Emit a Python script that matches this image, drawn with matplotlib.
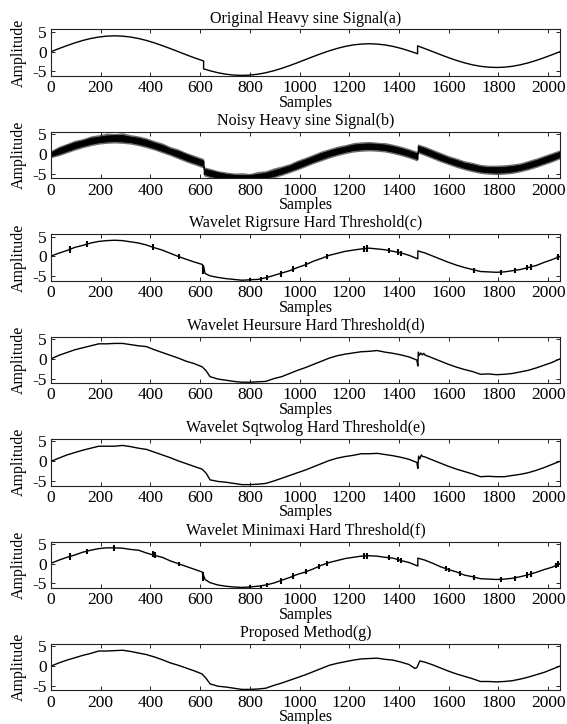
import numpy as np
import matplotlib
matplotlib.use("Agg")
import matplotlib.pyplot as plt

plt.rcParams['font.family'] = ['Liberation Serif', 'DejaVu Serif']
plt.rcParams['axes.unicode_minus'] = False

# sample grid (every 32 samples)
grid = np.arange(0, 2049, 32)

titles = ["Original Heavy sine Signal(a)", "Noisy Heavy sine Signal(b)",
          "Wavelet Rigrsure Hard Threshold(c)", "Wavelet Heursure Hard Threshold(d)",
          "Wavelet Sqtwolog Hard Threshold(e)", "Wavelet Minimaxi Hard Threshold(f)",
          "Proposed Method(g)"]
xticks = [0, 200, 400, 600, 800, 1000, 1200, 1400, 1600, 1800, 2000]
yticks = [-5, 0, 5]

# (a) original
orig_y = [0, 0.78, 1.53, 2.22, 2.83, 3.33, 3.70, 3.92, 4.00, 3.92, 3.70, 3.33, 2.83, 2.22, 1.53, 0.78, 0.00, -0.78, -1.53, -2.22,
          -4.83, -5.33, -5.70, -5.92, -6.00, -5.92, -5.70, -5.33, -4.83, -4.22, -3.53, -2.78, -2.00, -1.22, -0.47, 0.22, 0.83,
          1.33, 1.70, 1.92, 2.00, 1.92, 1.70, 1.33, 0.83, 0.22, -0.47,
          0.78, 0.00, -0.78, -1.53, -2.22, -2.83, -3.33, -3.70, -3.92, -4.00, -3.92, -3.70, -3.33, -2.83, -2.22, -1.53, -0.78, 0.00]
orig_ex_x = [614, 614, 1475, 1475]
orig_ex_y = [-2.35, -4.35, -0.53, 1.47]

# (b) noisy: outer envelope of the noise band
noisy_hi = [0.9, 2.0, 2.7, 3.5, 3.9, 4.6, 4.9, 5.3, 5.2, 5.4, 4.9, 4.6, 4.1, 3.4, 2.8, 1.9, 1.3, 0.4, -0.3, -1.0,
            -3.6, -4.2, -4.5, -4.8, -4.7, -4.9, -4.4, -4.2, -3.5, -3.0, -2.4, -1.5, -0.8, 0.0, 0.8, 1.4, 2.0,
            2.4, 2.9, 3.1, 3.2, 3.0, 2.9, 2.5, 2.0, 1.4, 0.7,
            2.0, 1.2, 0.4, -0.4, -1.0, -1.7, -2.1, -2.6, -2.8, -2.8, -2.7, -2.5, -2.2, -1.6, -1.0, -0.3, 0.4, 1.1]
noisy_lo = [-0.9, -0.4, 0.3, 1.0, 1.6, 2.1, 2.5, 2.7, 2.8, 2.7, 2.5, 2.1, 1.6, 1.0, 0.3, -0.4, -1.2, -2.0, -2.7, -3.4,
            -6.0, -6.5, -6.9, -7.1, -7.2, -7.1, -6.9, -6.5, -6.0, -5.4, -4.7, -4.0, -3.2, -2.4, -1.7, -1.0, -0.4,
            0.1, 0.5, 0.7, 0.8, 0.7, 0.5, 0.1, -0.4, -1.0, -1.7,
            -0.4, -1.2, -2.0, -2.7, -3.4, -4.0, -4.5, -4.9, -5.1, -5.2, -5.1, -4.9, -4.5, -4.0, -3.4, -2.7, -2.0, -1.2]
noisy_ex_x = [614, 614, 1475, 1475]
noisy_ex_hi = [-1.2, -3.2, 0.6, 2.6]
noisy_ex_lo = [-3.5, -5.5, -1.7, 0.3]
# dense core of the noise band
core_hi = [0.5, 1.5, 2.3, 3.0, 3.5, 4.1, 4.4, 4.7, 4.8, 4.8, 4.4, 4.1, 3.6, 2.9, 2.3, 1.4, 0.8, 0.0, -0.8, -1.5,
           -4.1, -4.6, -5.0, -5.2, -5.3, -5.3, -5.0, -4.7, -4.1, -3.5, -2.9, -2.0, -1.3, -0.5, 0.3, 0.9, 1.5,
           1.9, 2.4, 2.6, 2.7, 2.6, 2.4, 2.0, 1.5, 0.9, 0.2,
           1.5, 0.7, -0.1, -0.9, -1.5, -2.2, -2.6, -3.1, -3.3, -3.3, -3.2, -3.0, -2.7, -2.1, -1.5, -0.8, -0.1, 0.6]
core_lo = [-0.5, 0.1, 0.8, 1.5, 2.1, 2.6, 3.0, 3.2, 3.3, 3.2, 3.0, 2.6, 2.1, 1.5, 0.8, 0.1, -0.7, -1.5, -2.2, -2.9,
           -5.5, -6.0, -6.4, -6.6, -6.7, -6.6, -6.4, -6.0, -5.5, -4.9, -4.2, -3.5, -2.7, -1.9, -1.2, -0.5, 0.1,
           0.6, 1.0, 1.2, 1.3, 1.2, 1.0, 0.6, 0.1, -0.5, -1.2,
           0.1, -0.7, -1.5, -2.2, -2.9, -3.5, -4.0, -4.4, -4.6, -4.7, -4.6, -4.4, -4.0, -3.5, -2.9, -2.2, -1.5, -0.7]
core_ex_hi = [-1.7, -3.7, 0.1, 2.1]
core_ex_lo = [-3.0, -5.0, -1.2, 0.8]

# (c) rigrsure
rig_y = [0.1, 0.85, 1.5, 2.3, 2.8, 3.4, 3.8, 4.0, 4.1, 4.0, 3.7, 3.4, 2.9, 2.2, 1.6, 0.8, 0.0, -0.7, -1.4, -2.0,
         -4.9, -5.3, -5.6, -5.8, -6.0, -5.9, -5.8, -5.4, -4.8, -4.2, -3.6, -2.8, -2.1, -1.2, -0.5, 0.3, 0.8,
         1.3, 1.6, 1.9, 2.1, 1.9, 1.7, 1.3, 0.9, 0.3, -0.5,
         0.9, 0.1, -0.7, -1.5, -2.2, -2.8, -3.3, -3.8, -3.9, -4.0, -3.9, -3.6, -3.3, -2.8, -2.3, -1.5, -0.8, 0.0]
rig_ex_x = [614, 620, 1476, 1476]
rig_ex_y = [-2.5, -4.3, -0.6, 1.4]
rig_sp_x = [75, 145, 410, 515, 612, 800, 845, 870, 925, 975, 1025, 1110, 1258, 1270, 1360, 1395, 1410,
            1700, 1810, 1865, 1915, 1930, 2040]
rig_sp_lo = [1.0, 2.4, 1.6, -0.6, -4.4, -6.1, -6.1, -5.9, -5.1, -3.9, -2.7, -0.6, 1.2, 1.2, 0.9, 0.4, 0.2,
             -4.1, -4.6, -4.3, -3.5, -3.3, -0.8]
rig_sp_hi = [2.6, 3.8, 3.1, 0.5, -2.2, -5.5, -5.3, -4.8, -3.6, -2.4, -1.3, 0.6, 2.7, 2.8, 2.2, 1.8, 1.5,
             -2.8, -3.3, -3.0, -2.1, -1.9, 0.6]

# (d) heursure
heur_y = [0.0, 0.9, 1.6, 2.3, 2.8, 3.3, 3.8, 3.8, 3.9, 3.9, 3.6, 3.3, 3.1, 2.3, 1.6, 0.9, 0.2, -0.6, -1.2, -2.0,
          -4.5, -5.1, -5.4, -5.7, -5.9, -5.9, -5.8, -5.7, -5.0, -4.5, -3.7, -2.9, -2.2, -1.4, -0.6, 0.2, 0.8,
          1.2, 1.5, 1.8, 1.9, 2.1, 1.7, 1.4, 1.0, 0.5, -0.3,
          1.0, 0.2, -0.6, -1.4, -2.1, -2.7, -3.2, -3.9, -3.8, -4.0, -3.9, -3.7, -3.3, -2.9, -2.3, -1.6, -0.9, 0.0]
heur_ex_x = [624, 1476, 1478, 1482, 1488, 1494, 1500]
heur_ex_y = [-3.0, -1.8, 1.7, 0.9, 1.5, 1.0, 1.4]

# (e) sqtwolog
sqt_y = [0.0, 0.8, 1.6, 2.2, 2.8, 3.3, 3.8, 3.8, 3.8, 4.0, 3.7, 3.3, 3.0, 2.3, 1.6, 0.9, 0.1, -0.6, -1.3, -2.0,
         -4.7, -5.1, -5.3, -5.6, -5.9, -5.9, -5.8, -5.6, -5.0, -4.3, -3.6, -2.9, -2.2, -1.4, -0.6, 0.2, 0.8,
         1.2, 1.5, 1.9, 1.9, 2.0, 1.7, 1.4, 1.0, 0.5, -0.3,
         1.1, 0.3, -0.5, -1.3, -2.0, -2.6, -3.2, -3.9, -3.8, -3.9, -3.9, -3.6, -3.3, -2.9, -2.3, -1.6, -0.8, 0.0]
sqt_ex_x = [624, 1476, 1479, 1484, 1490, 1496]
sqt_ex_y = [-3.0, -1.8, 1.3, 0.6, 1.6, 1.2]

# (f) minimaxi
mini_y = [0.1, 0.9, 1.6, 2.2, 2.9, 3.4, 3.8, 4.0, 4.0, 3.9, 3.6, 3.4, 2.7, 2.1, 1.6, 0.7, 0.0, -0.7, -1.4, -2.1,
          -4.8, -5.4, -5.7, -5.9, -6.0, -5.9, -5.7, -5.4, -4.9, -4.2, -3.5, -2.7, -2.1, -1.3, -0.4, 0.3, 0.8,
          1.3, 1.6, 1.9, 2.0, 1.9, 1.6, 1.4, 0.8, 0.3, -0.5,
          0.9, 0.1, -0.8, -1.5, -2.1, -2.9, -3.3, -3.8, -3.9, -4.0, -3.9, -3.7, -3.3, -2.8, -2.2, -1.5, -0.9, 0.0]
mini_ex_x = [620, 1476, 1476]
mini_ex_y = [-4.0, -0.6, 1.4]
mini_sp_x = [75, 145, 255, 410, 420, 515, 612, 800, 845, 870, 925, 975, 1025, 1080, 1110, 1258, 1270, 1360,
             1395, 1410, 1590, 1600, 1645, 1700, 1810, 1865, 1915, 1930, 2030, 2040]
mini_sp_lo = [1.0, 2.4, 3.3, 1.6, 1.5, -0.6, -4.4, -6.1, -6.1, -5.9, -5.1, -3.9, -2.7, -1.3, -0.6, 1.2, 1.2, 0.9,
              0.4, 0.2, -1.9, -2.1, -3.1, -4.1, -4.6, -4.3, -3.5, -3.3, -1.0, -0.8]
mini_sp_hi = [2.6, 3.8, 4.7, 3.1, 2.9, 0.5, -2.2, -5.5, -5.3, -4.8, -3.6, -2.4, -1.3, 0.0, 0.6, 2.7, 2.8, 2.2,
              1.8, 1.5, -0.7, -1.0, -1.9, -2.8, -3.3, -3.0, -2.1, -1.9, 0.2, 0.6]

# (g) proposed
prop_y = [0.0, 0.8, 1.5, 2.1, 2.7, 3.2, 3.8, 3.8, 3.9, 4.0, 3.7, 3.3, 2.9, 2.3, 1.6, 0.8, 0.2, -0.5, -1.2, -2.0,
          -4.5, -5.1, -5.3, -5.6, -5.9, -5.9, -5.8, -5.6, -4.9, -4.3, -3.6, -2.9, -2.2, -1.4, -0.6, 0.2, 0.7,
          1.1, 1.5, 1.8, 1.9, 2.0, 1.7, 1.5, 1.0, 0.4, -0.4,
          1.0, 0.3, -0.5, -1.3, -2.0, -2.6, -3.2, -3.9, -3.9, -4.0, -3.9, -3.7, -3.3, -2.8, -2.2, -1.6, -0.8, 0.0]
prop_ex_x = [624, 1464, 1484]
prop_ex_y = [-3.1, -0.6, 1.3]


def merged(base_y, ex_x, ex_y):
    x = np.concatenate([grid, np.asarray(ex_x, float)])
    y = np.concatenate([np.asarray(base_y, float), np.asarray(ex_y, float)])
    order = np.argsort(x, kind='stable')
    return x[order], y[order]


W, H = 567, 724
fig = plt.figure(figsize=(W / 100, H / 100), dpi=100)
left_px, right_px = 51, 560
ax_h = 46.5
tops = [29.5 + 102.4 * k for k in range(7)]

line_kw = dict(color='black', lw=1.0)
axes = []
for k, top in enumerate(tops):
    ax = fig.add_axes([left_px / W, 1 - (top + ax_h) / H, (right_px - left_px) / W, ax_h / H])
    axes.append(ax)

series = [
    (orig_y, orig_ex_x, orig_ex_y, None),
    None,
    (rig_y, rig_ex_x, rig_ex_y, (rig_sp_x, rig_sp_lo, rig_sp_hi)),
    (heur_y, heur_ex_x, heur_ex_y, None),
    (sqt_y, sqt_ex_x, sqt_ex_y, None),
    (mini_y, mini_ex_x, mini_ex_y, (mini_sp_x, mini_sp_lo, mini_sp_hi)),
    (prop_y, prop_ex_x, prop_ex_y, None),
]

for k, ax in enumerate(axes):
    if series[k] is None:
        xh, yh = merged(noisy_hi, noisy_ex_x, noisy_ex_hi)
        xl, yl = merged(noisy_lo, noisy_ex_x, noisy_ex_lo)
        ax.fill_between(xh, yl, yh, color='#6e6e6e', lw=0)
        xh, yh = merged(core_hi, noisy_ex_x, core_ex_hi)
        xl, yl = merged(core_lo, noisy_ex_x, core_ex_lo)
        ax.fill_between(xh, yl, yh, color='black', lw=0.6)
    else:
        by, ex_x, ex_y, sp = series[k]
        x, y = merged(by, ex_x, ex_y)
        ax.plot(x, y, **line_kw)
        if sp is not None:
            ax.vlines(sp[0], sp[1], sp[2], color='black', lw=1.5)
    ax.set_xlim(0, 2048)
    ax.set_ylim(-6.15, 5.6)
    ax.set_xticks(xticks)
    ax.set_yticks(yticks)
    ax.tick_params(direction='in', top=True, right=True, length=3, width=0.6,
                   labelsize=12.5, pad=3, colors='black')
    for s in ax.spines.values():
        s.set_linewidth(0.8)
        s.set_color('#222222')
    ax.set_title(titles[k], fontsize=11.5, pad=5)
    ax.set_xlabel("Samples", fontsize=11.5, labelpad=-1)
    ax.set_ylabel("Amplitude", fontsize=11.5, labelpad=4)

fig.savefig("out.png", dpi=100)
